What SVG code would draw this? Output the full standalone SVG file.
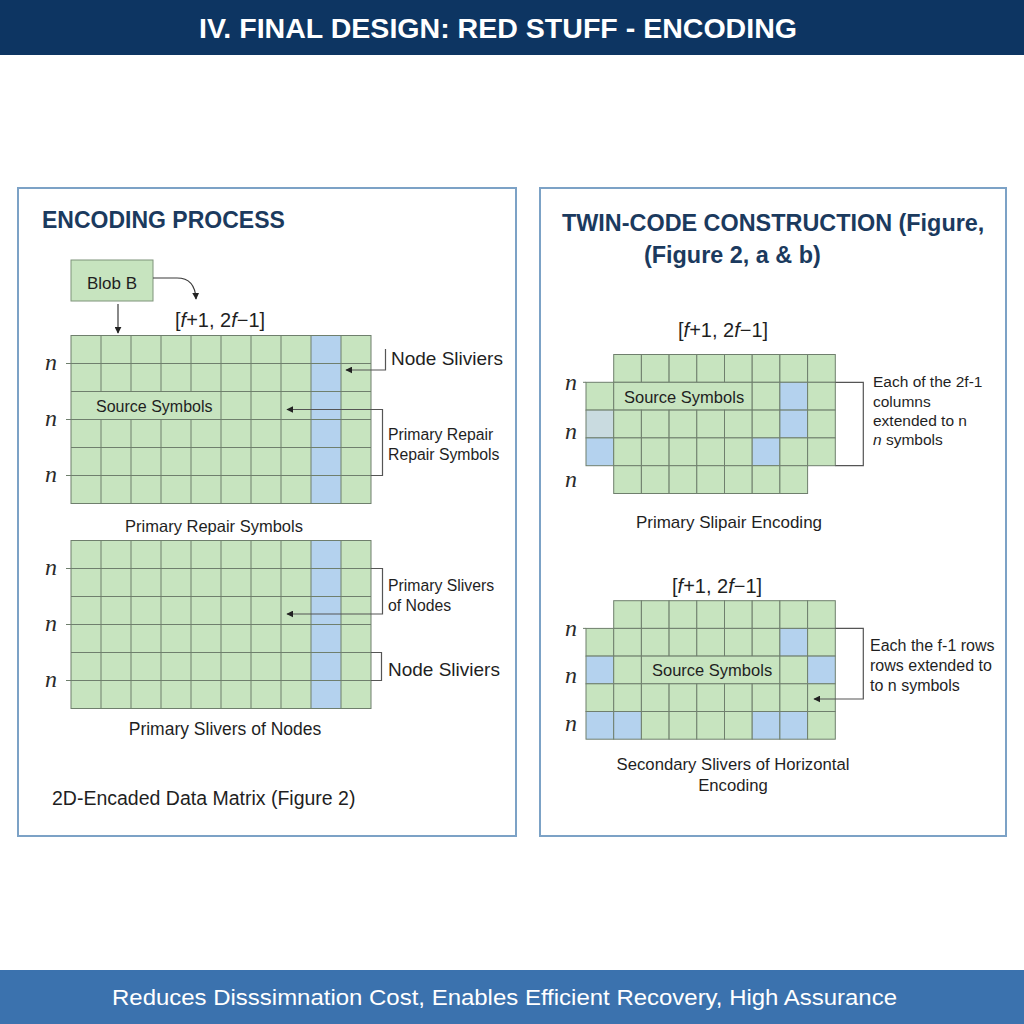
<svg xmlns="http://www.w3.org/2000/svg" width="1024" height="1024" viewBox="0 0 1024 1024">
<defs>
<style>
.sans{font-family:"Liberation Sans",Arial,sans-serif;}
.t{font-family:"Liberation Sans",Arial,sans-serif;fill:#1f1f1f;}
.h2{font-family:"Liberation Sans",Arial,sans-serif;font-weight:bold;fill:#1b3a5e;}
.nl{font-family:"Liberation Serif","DejaVu Serif",serif;font-style:italic;font-size:24px;fill:#2a2a2a;}
.g{fill:#c7e4bf;stroke:#6f7f6d;stroke-width:1;}
.b{fill:#b4d2ee;stroke:#6f7f6d;stroke-width:1;}
.gb{fill:#c9dbe0;stroke:#6f7f6d;stroke-width:1;}
.gl{stroke:#6f7f6d;stroke-width:1;fill:none;}
.panel{fill:#ffffff;stroke:#7ca2c6;stroke-width:2;}
.con{stroke:#3a3a3a;stroke-width:1.2;fill:none;}
.br{stroke:#555;stroke-width:1.2;fill:none;}
</style>
<marker id="ah" viewBox="0 0 10 10" refX="9" refY="5" markerWidth="7" markerHeight="7" orient="auto" markerUnits="userSpaceOnUse">
<path d="M0,0 L10,5 L0,10 z" fill="#222"/>
</marker>
</defs>
<rect x="0" y="0" width="1024" height="1024" fill="#ffffff"/>

<g id="header">
<rect x="0" y="0" width="1024" height="55" fill="#0d3562"/>
<text x="199" y="38" class="sans" font-weight="bold" font-size="27" fill="#ffffff" textLength="598" lengthAdjust="spacingAndGlyphs">IV. FINAL DESIGN: RED STUFF - ENCODING</text>
</g>

<g id="panel-left">
<rect class="panel" x="18" y="188" width="498" height="648"/>
<text class="h2" x="42" y="228" font-size="23">ENCODING PROCESS</text>
</g>

<g id="blob">
<rect x="71" y="260" width="82" height="41" fill="#c7e4bf" stroke="#7f947b" stroke-width="1"/>
<text class="t" x="112" y="289" font-size="17" text-anchor="middle">Blob B</text>
</g>

<g id="label-code-1">
<text class="t" x="175" y="327" font-size="20">[<tspan font-style="italic">f</tspan>+1, 2<tspan font-style="italic">f</tspan>−1]</text>
</g>

<g id="grid-1">
<rect x="71" y="335.5" width="300" height="168" fill="#c7e4bf"/>
<rect x="311" y="335.5" width="30" height="168" fill="#b4d2ee"/>
<path class="gl" d="M66,363.5 H371 M71,391.5 H371 M66,419.5 H371 M71,447.5 H371 M66,475.5 H371
M101,335.5 V391.5 M101,419.5 V503.5 M131,335.5 V391.5 M131,419.5 V503.5 M161,335.5 V391.5 M161,419.5 V503.5 M191,335.5 V391.5 M191,419.5 V503.5
M221,335.5 V503.5 M251,335.5 V503.5 M281,335.5 V503.5 M311,335.5 V503.5 M341,335.5 V503.5"/>
<rect x="71" y="335.5" width="300" height="168" fill="none" stroke="#6f7f6d" stroke-width="1"/>
<text class="t" x="96" y="412" font-size="16">Source Symbols</text>
<text class="nl" x="45" y="370">n</text>
<text class="nl" x="45" y="426">n</text>
<text class="nl" x="45" y="482">n</text>
</g>

<g id="label-node-sliviers-1">
<text class="t" x="391" y="365" font-size="19">Node Sliviers</text>
</g>
<g id="label-primary-repair">
<text class="t" x="388" y="440" font-size="15.8">Primary Repair</text>
<text class="t" x="388" y="460" font-size="15.8">Repair Symbols</text>
</g>
<g id="caption-1">
<text class="t" x="214" y="532" font-size="16.5" text-anchor="middle">Primary Repair Symbols</text>
</g>

<g id="grid-2">
<rect x="71" y="540.5" width="300" height="168" fill="#c7e4bf"/>
<rect x="311" y="540.5" width="30" height="168" fill="#b4d2ee"/>
<path class="gl" d="M66,568.5 H371 M71,596.5 H371 M66,624.5 H371 M71,652.5 H371 M66,680.5 H371
M101,540.5 V708.5 M131,540.5 V708.5 M161,540.5 V708.5 M191,540.5 V708.5 M221,540.5 V708.5 M251,540.5 V708.5 M281,540.5 V708.5 M311,540.5 V708.5 M341,540.5 V708.5"/>
<rect x="71" y="540.5" width="300" height="168" fill="none" stroke="#6f7f6d" stroke-width="1"/>
<text class="nl" x="45" y="575">n</text>
<text class="nl" x="45" y="631">n</text>
<text class="nl" x="45" y="687">n</text>
</g>
<g id="label-primary-slivers">
<text class="t" x="388" y="591" font-size="15.8">Primary Slivers</text>
<text class="t" x="388" y="611" font-size="15.8">of Nodes</text>
</g>
<g id="label-node-sliviers-2">
<text class="t" x="388" y="676" font-size="19">Node Sliviers</text>
</g>
<g id="caption-2">
<text class="t" x="225" y="735" font-size="17.5" text-anchor="middle">Primary Slivers of Nodes</text>
</g>
<g id="caption-left">
<text class="t" x="52" y="805" font-size="19.5">2D-Encaded Data Matrix (Figure 2)</text>
</g>

<g id="panel-right">
<rect class="panel" x="540" y="188" width="466" height="648"/>
<text class="h2" x="562" y="231" font-size="23.4">TWIN-CODE CONSTRUCTION (Figure,</text>
<text class="h2" x="644" y="263" font-size="23.4">(Figure 2, a &amp; b)</text>
</g>

<g id="label-code-2">
<text class="t" x="678" y="337" font-size="20">[<tspan font-style="italic">f</tspan>+1, 2<tspan font-style="italic">f</tspan>−1]</text>
</g>

<g id="grid-3">
<rect class="g" x="613.7" y="354.5" width="27.7" height="27.8"/>
<rect class="g" x="641.4" y="354.5" width="27.7" height="27.8"/>
<rect class="g" x="669.1" y="354.5" width="27.7" height="27.8"/>
<rect class="g" x="696.8" y="354.5" width="27.7" height="27.8"/>
<rect class="g" x="724.5" y="354.5" width="27.7" height="27.8"/>
<rect class="g" x="752.2" y="354.5" width="27.7" height="27.8"/>
<rect class="g" x="779.9" y="354.5" width="27.7" height="27.8"/>
<rect class="g" x="807.6" y="354.5" width="27.7" height="27.8"/>

<rect class="g" x="586" y="382.3" width="27.7" height="27.8"/>
<rect class="g" x="613.7" y="382.3" width="138.5" height="27.8"/>
<rect class="g" x="752.2" y="382.3" width="27.7" height="27.8"/>
<rect class="b" x="779.9" y="382.3" width="27.7" height="27.8"/>
<rect class="g" x="807.6" y="382.3" width="27.7" height="27.8"/>

<rect class="gb" x="586" y="410.1" width="27.7" height="27.8"/>
<rect class="g" x="613.7" y="410.1" width="27.7" height="27.8"/>
<rect class="g" x="641.4" y="410.1" width="27.7" height="27.8"/>
<rect class="g" x="669.1" y="410.1" width="27.7" height="27.8"/>
<rect class="g" x="696.8" y="410.1" width="27.7" height="27.8"/>
<rect class="g" x="724.5" y="410.1" width="27.7" height="27.8"/>
<rect class="g" x="752.2" y="410.1" width="27.7" height="27.8"/>
<rect class="b" x="779.9" y="410.1" width="27.7" height="27.8"/>
<rect class="g" x="807.6" y="410.1" width="27.7" height="27.8"/>

<rect class="b" x="586" y="437.9" width="27.7" height="27.8"/>
<rect class="g" x="613.7" y="437.9" width="27.7" height="27.8"/>
<rect class="g" x="641.4" y="437.9" width="27.7" height="27.8"/>
<rect class="g" x="669.1" y="437.9" width="27.7" height="27.8"/>
<rect class="g" x="696.8" y="437.9" width="27.7" height="27.8"/>
<rect class="g" x="724.5" y="437.9" width="27.7" height="27.8"/>
<rect class="b" x="752.2" y="437.9" width="27.7" height="27.8"/>
<rect class="g" x="779.9" y="437.9" width="27.7" height="27.8"/>
<rect class="g" x="807.6" y="437.9" width="27.7" height="27.8"/>

<rect class="g" x="613.7" y="465.7" width="27.7" height="27.8"/>
<rect class="g" x="641.4" y="465.7" width="27.7" height="27.8"/>
<rect class="g" x="669.1" y="465.7" width="27.7" height="27.8"/>
<rect class="g" x="696.8" y="465.7" width="27.7" height="27.8"/>
<rect class="g" x="724.5" y="465.7" width="27.7" height="27.8"/>
<rect class="g" x="752.2" y="465.7" width="27.7" height="27.8"/>
<rect class="g" x="779.9" y="465.7" width="27.7" height="27.8"/>
<path class="gl" d="M583,382.3 H586"/>
<text class="t" x="624" y="403" font-size="16.5">Source Symbols</text>
<text class="nl" x="565" y="390">n</text>
<text class="nl" x="565" y="439">n</text>
<text class="nl" x="565" y="487">n</text>
</g>
<g id="label-columns">
<text class="t" x="873" y="387" font-size="15.5">Each of the 2f-1</text>
<text class="t" x="873" y="407" font-size="15.5">columns</text>
<text class="t" x="873" y="426" font-size="15.5">extended to n</text>
<text class="t" x="873" y="445" font-size="15.5"><tspan font-style="italic">n</tspan> symbols</text>
</g>
<g id="caption-3">
<text class="t" x="729" y="528" font-size="17" text-anchor="middle">Primary Slipair Encoding</text>
</g>

<g id="label-code-3">
<text class="t" x="672" y="593" font-size="20">[<tspan font-style="italic">f</tspan>+1, 2<tspan font-style="italic">f</tspan>−1]</text>
</g>

<g id="grid-4">
<rect class="g" x="613.7" y="600.7" width="27.7" height="27.7"/>
<rect class="g" x="641.4" y="600.7" width="27.7" height="27.7"/>
<rect class="g" x="669.1" y="600.7" width="27.7" height="27.7"/>
<rect class="g" x="696.8" y="600.7" width="27.7" height="27.7"/>
<rect class="g" x="724.5" y="600.7" width="27.7" height="27.7"/>
<rect class="g" x="752.2" y="600.7" width="27.7" height="27.7"/>
<rect class="g" x="779.9" y="600.7" width="27.7" height="27.7"/>
<rect class="g" x="807.6" y="600.7" width="27.7" height="27.7"/>

<rect class="g" x="586" y="628.4" width="27.7" height="27.7"/>
<rect class="g" x="613.7" y="628.4" width="27.7" height="27.7"/>
<rect class="g" x="641.4" y="628.4" width="27.7" height="27.7"/>
<rect class="g" x="669.1" y="628.4" width="27.7" height="27.7"/>
<rect class="g" x="696.8" y="628.4" width="27.7" height="27.7"/>
<rect class="g" x="724.5" y="628.4" width="27.7" height="27.7"/>
<rect class="g" x="752.2" y="628.4" width="27.7" height="27.7"/>
<rect class="b" x="779.9" y="628.4" width="27.7" height="27.7"/>
<rect class="g" x="807.6" y="628.4" width="27.7" height="27.7"/>

<rect class="b" x="586" y="656.1" width="27.7" height="27.7"/>
<rect class="g" x="613.7" y="656.1" width="27.7" height="27.7"/>
<rect class="g" x="641.4" y="656.1" width="138.5" height="27.7"/>
<rect class="g" x="779.9" y="656.1" width="27.7" height="27.7"/>
<rect class="b" x="807.6" y="656.1" width="27.7" height="27.7"/>

<rect class="g" x="586" y="683.8" width="27.7" height="27.7"/>
<rect class="g" x="613.7" y="683.8" width="27.7" height="27.7"/>
<rect class="g" x="641.4" y="683.8" width="27.7" height="27.7"/>
<rect class="g" x="669.1" y="683.8" width="27.7" height="27.7"/>
<rect class="g" x="696.8" y="683.8" width="27.7" height="27.7"/>
<rect class="g" x="724.5" y="683.8" width="27.7" height="27.7"/>
<rect class="g" x="752.2" y="683.8" width="27.7" height="27.7"/>
<rect class="g" x="779.9" y="683.8" width="27.7" height="27.7"/>
<rect class="g" x="807.6" y="683.8" width="27.7" height="27.7"/>

<rect class="b" x="586" y="711.5" width="27.7" height="27.7"/>
<rect class="b" x="613.7" y="711.5" width="27.7" height="27.7"/>
<rect class="g" x="641.4" y="711.5" width="27.7" height="27.7"/>
<rect class="g" x="669.1" y="711.5" width="27.7" height="27.7"/>
<rect class="g" x="696.8" y="711.5" width="27.7" height="27.7"/>
<rect class="g" x="724.5" y="711.5" width="27.7" height="27.7"/>
<rect class="b" x="752.2" y="711.5" width="27.7" height="27.7"/>
<rect class="b" x="779.9" y="711.5" width="27.7" height="27.7"/>
<rect class="g" x="807.6" y="711.5" width="27.7" height="27.7"/>
<path class="gl" d="M583,628.4 H586"/>
<text class="t" x="652" y="676" font-size="16.5">Source Symbols</text>
<text class="nl" x="565" y="636">n</text>
<text class="nl" x="565" y="683">n</text>
<text class="nl" x="565" y="731">n</text>
</g>
<g id="label-rows">
<text class="t" x="870" y="651" font-size="16">Each the f-1 rows</text>
<text class="t" x="870" y="671" font-size="16">rows extended to</text>
<text class="t" x="870" y="691" font-size="16">to n symbols</text>
</g>
<g id="caption-4">
<text class="t" x="733" y="770" font-size="16.7" text-anchor="middle">Secondary Slivers of Horizontal</text>
<text class="t" x="733" y="791" font-size="16.7" text-anchor="middle">Encoding</text>
</g>

<g id="connectors">
<path class="con" d="M153,278 H177 Q195,278 196,299" marker-end="url(#ah)"/>
<path class="con" d="M118,304 V333" marker-end="url(#ah)"/>
<path class="br" d="M385.5,349 V370 H346" marker-end="url(#ah)"/>
<path class="br" d="M371,475.5 H382.5 V409.5 H287" marker-end="url(#ah)"/>
<path class="br" d="M371,568.5 H382.5 V614 H287" marker-end="url(#ah)"/>
<path class="br" d="M371,652.5 H381.5 V680.5 H371"/>
<path class="br" d="M835.3,382.3 H863.3 V465.7 H835.3"/>
<path class="br" d="M835.3,628.4 H863.3 V699 H814" marker-end="url(#ah)"/>
</g>

<g id="footer">
<rect x="0" y="970" width="1024" height="54" fill="#3b72ae"/>
<text x="112" y="1005" class="sans" font-size="22" fill="#ffffff" textLength="785" lengthAdjust="spacingAndGlyphs">Reduces Disssimnation Cost, Enables Efficient Recovery, High Assurance</text>
</g>
</svg>
